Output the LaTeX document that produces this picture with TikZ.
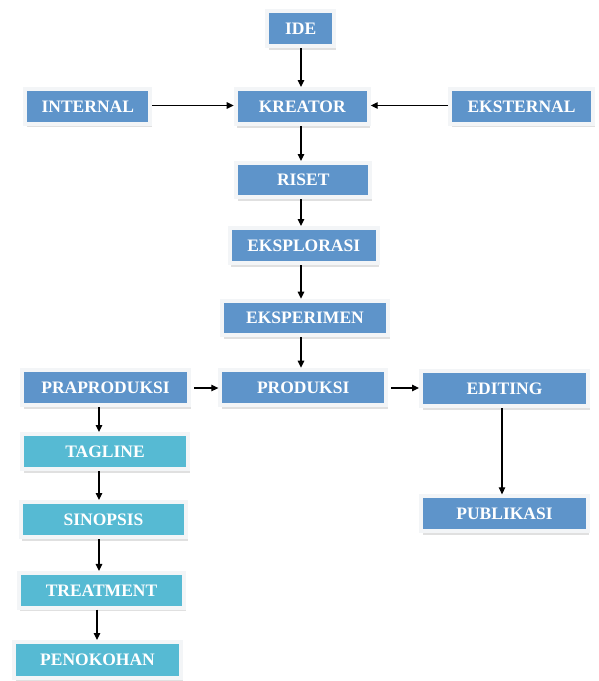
\documentclass[tikz,border=0pt]{standalone}
\usepackage{fontspec}
\setmainfont{Liberation Serif}
\usetikzlibrary{arrows.meta,shadows}
\definecolor{boxblue}{RGB}{94,148,202}
\definecolor{boxteal}{RGB}{86,186,211}
\definecolor{framecol}{RGB}{243,245,247}
\tikzset{
  box/.style={draw=framecol, line width=4pt, inner sep=0pt, text=white,
    font=\fontsize{17.5}{20}\selectfont\bfseries,
    drop shadow={shadow xshift=1.5pt, shadow yshift=-3.5pt, fill=black!40, opacity=0.3}},
  bbox/.style={box, fill=boxblue},
  tbox/.style={box, fill=boxteal},
  arr/.style={-{Triangle[length=7pt,width=6.5pt]}, line width=1.2pt, black},
}
\begin{document}
\begin{tikzpicture}[x=1pt,y=-1pt]
\useasboundingbox[fill=white] (0,0) rectangle (598,681);
\node[bbox, minimum width=66.7pt, minimum height=34.7pt] (ide) at (300.7,28.7) {IDE};
\node[bbox, minimum width=125pt, minimum height=34.7pt] (internal) at (87.8,106.3) {INTERNAL};
\node[bbox, minimum width=133pt, minimum height=35.3pt] (kreator) at (302.2,106.7) {KREATOR};
\node[bbox, minimum width=143pt, minimum height=34.5pt] (eksternal) at (521.5,106.5) {EKSTERNAL};
\node[bbox, minimum width=134pt, minimum height=34pt] (riset) at (303.3,180) {RISET};
\node[bbox, minimum width=148pt, minimum height=35pt] (eksplorasi) at (303.7,245.5) {EKSPLORASI};
\node[bbox, minimum width=166pt, minimum height=34.6pt] (eksperimen) at (305,318) {EKSPERIMEN};
\node[bbox, minimum width=167pt, minimum height=35pt] (praproduksi) at (105.5,387.5) {PRAPRODUKSI};
\node[bbox, minimum width=165.7pt, minimum height=35.6pt] (produksi) at (303.2,387.5) {PRODUKSI};
\node[bbox, minimum width=167pt, minimum height=35pt] (editing) at (504.5,388.5) {EDITING};
\node[bbox, minimum width=166.4pt, minimum height=34.7pt] (publikasi) at (504.5,513.7) {PUBLIKASI};
\node[tbox, minimum width=166pt, minimum height=35pt] (tagline) at (105,451.5) {TAGLINE};
\node[tbox, minimum width=165.6pt, minimum height=35pt] (sinopsis) at (103.5,519.5) {SINOPSIS};
\node[tbox, minimum width=165.6pt, minimum height=34.7pt] (treatment) at (101.5,590.3) {TREATMENT};
\node[tbox, minimum width=167pt, minimum height=36pt] (penokohan) at (97.5,660) {PENOKOHAN};
\coordinate (cmain) at (301,0);
\coordinate (cleft) at (99,0);
\coordinate (cleft2) at (97,0);
\coordinate (cright) at (502,0);
\coordinate (rowk) at (0,105.5);
\coordinate (rowp) at (0,388);
% main chain
\draw[arr] (ide.south -| cmain) -- (kreator.north -| cmain);
\draw[arr] (kreator.south -| cmain) -- (riset.north -| cmain);
\draw[arr] (riset.south -| cmain) -- (eksplorasi.north -| cmain);
\draw[arr] (eksplorasi.south -| cmain) -- (eksperimen.north -| cmain);
\draw[arr] (eksperimen.south -| cmain) -- (produksi.north -| cmain);
\draw[arr] (internal.east |- rowk) -- (kreator.west |- rowk);
\draw[arr] (eksternal.west |- rowk) -- (kreator.east |- rowk);
\draw[arr, shorten <=3pt] (praproduksi.east |- rowp) -- (produksi.west |- rowp);
\draw[arr, shorten <=3pt] (produksi.east |- rowp) -- (editing.west |- rowp);
\draw[arr] (editing.south -| cright) -- (publikasi.north -| cright);
% left column
\draw[arr] (praproduksi.south -| cleft) -- (tagline.north -| cleft);
\draw[arr] (tagline.south -| cleft) -- (sinopsis.north -| cleft);
\draw[arr] (sinopsis.south -| cleft) -- (treatment.north -| cleft);
\draw[arr] (treatment.south -| cleft2) -- (penokohan.north -| cleft2);
\end{tikzpicture}
\end{document}
